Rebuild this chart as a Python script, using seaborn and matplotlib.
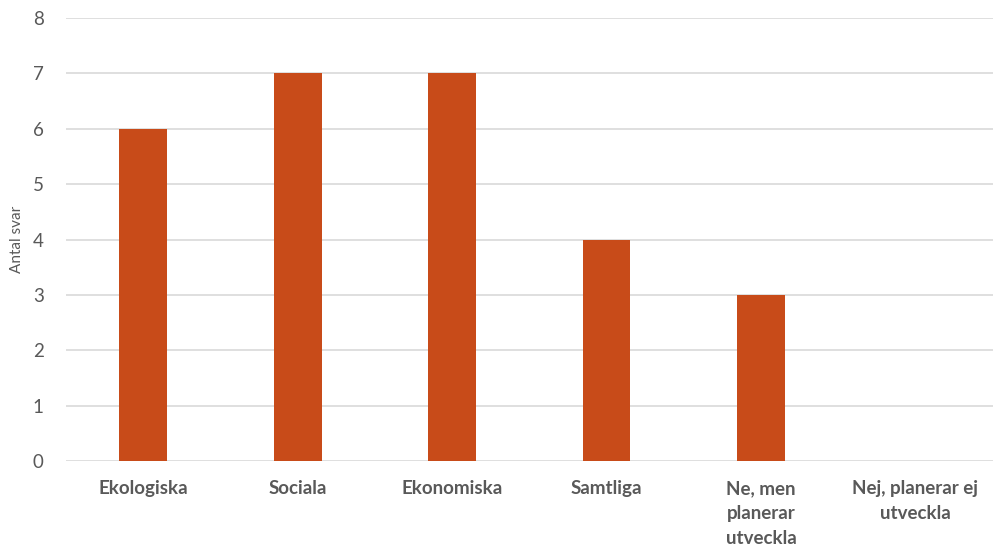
import pandas as pd
import matplotlib
matplotlib.use("Agg")
import matplotlib.pyplot as plt
import seaborn as sns

# data
categories = ["Ekologiska", "Sociala", "Ekonomiska", "Samtliga",
              "Ne, men\nplanerar\nutveckla", "Nej, planerar ej\nutveckla"]
antal_svar = [6, 7, 7, 4, 3, 0]

df = pd.DataFrame({"kategori": categories, "antal": antal_svar})

sns.set_style("white")
plt.rcParams["font.family"] = ["Lato", "DejaVu Sans"]

fig = plt.figure(figsize=(9.93, 5.5), dpi=100)
ax = fig.add_axes([0.0665, 0.162, 0.933, 0.805])

sns.barplot(data=df, x="kategori", y="antal", color="#C84B19",
            saturation=1, width=0.31, linewidth=0, ax=ax, zorder=3)

ax.set_ylim(0, 8)
ax.set_yticks(range(0, 9))
ax.set_xlim(-0.5, len(categories) - 0.5)
ax.grid(axis="y", color="#d9d9d9", linewidth=1.2, zorder=0)
ax.set_axisbelow(True)
for s in ax.spines.values():
    s.set_visible(False)

ax.tick_params(axis="y", length=0, pad=16, labelsize=13.5, labelcolor="#595959")
ax.tick_params(axis="x", length=0, pad=14, labelsize=13.5, labelcolor="#595959")
for lbl in ax.get_xticklabels():
    lbl.set_fontweight("bold")
    lbl.set_linespacing(1.55)

ax.set_xlabel("")
ax.set_ylabel("Antal svar", fontsize=11, color="#595959", labelpad=6)

fig.savefig("out.png", dpi=100)
